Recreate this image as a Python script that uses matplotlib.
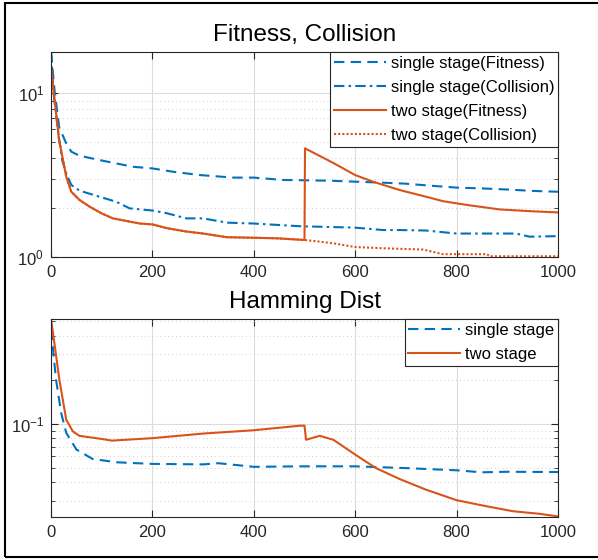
import matplotlib
matplotlib.use("Agg")
import matplotlib.pyplot as plt
from matplotlib.ticker import LogLocator, NullFormatter
from matplotlib.patches import Rectangle

plt.rcParams['font.family'] = ['Liberation Sans', 'DejaVu Sans']
plt.rcParams['mathtext.fontset'] = 'custom'
plt.rcParams['mathtext.rm'] = 'Liberation Sans'

# ---- data ----
# top panel: fitness / collision
ss_fit_x = [0, 7, 16, 30, 40, 56, 96, 129, 162, 200, 241, 294, 360, 400, 458, 492,
            550, 600, 655, 700, 750, 800, 850, 900, 950, 1000]
ss_fit_y = [17.8, 10.4, 6.2, 4.93, 4.39, 4.15, 3.9, 3.72, 3.55, 3.47, 3.31, 3.16, 3.05, 3.05, 2.95, 2.94,
            2.92, 2.88, 2.84, 2.8, 2.72, 2.65, 2.62, 2.58, 2.53, 2.5]

ss_col_x = [0, 5, 15, 22, 30, 40, 56, 96, 129, 155, 200, 228, 267, 300, 347, 400, 445, 492,
            600, 655, 688, 740, 800, 852, 917, 944, 1000]
ss_col_y = [17.8, 10.0, 5.5, 3.9, 3.24, 2.75, 2.54, 2.33, 2.17, 1.98, 1.92, 1.85, 1.72, 1.72, 1.62, 1.60, 1.57, 1.54,
            1.51, 1.46, 1.46, 1.45, 1.39, 1.39, 1.39, 1.33, 1.34]

ts_fit_x = [0, 7, 16, 30, 40, 56, 76, 99, 122, 148, 175, 200, 228, 267, 300, 347, 400, 445, 500,
            501, 558, 600, 635, 688, 740, 773, 819, 885, 950, 1000]
ts_fit_y = [14.5, 9.06, 5.17, 3.09, 2.5, 2.23, 2.03, 1.85, 1.72, 1.66, 1.6, 1.58, 1.5, 1.43, 1.39, 1.32, 1.31, 1.3, 1.27,
            4.6, 3.73, 3.16, 2.88, 2.56, 2.33, 2.19, 2.08, 1.95, 1.90, 1.87]

ts_col_x = [0, 7, 16, 30, 40, 56, 76, 99, 122, 148, 175, 200, 228, 267, 300, 347, 400, 445, 500,
            530, 558, 600, 655, 734, 773, 819, 860, 865, 1000]
ts_col_y = [14.5, 9.06, 5.17, 3.09, 2.5, 2.23, 2.03, 1.85, 1.72, 1.66, 1.6, 1.58, 1.5, 1.43, 1.39, 1.32, 1.31, 1.3, 1.27,
            1.24, 1.21, 1.15, 1.13, 1.11, 1.04, 1.04, 1.04, 1.01, 1.01]

# bottom panel: hamming distance
hd_ss_x = [0, 10, 20, 30, 50, 82, 129, 200, 300, 330, 400, 491, 600, 700, 800, 850, 900, 1000]
hd_ss_y = [0.44, 0.2, 0.119, 0.087, 0.067, 0.0577, 0.0548, 0.0534, 0.053, 0.054, 0.051, 0.0514,
           0.0514, 0.050, 0.0483, 0.0468, 0.0472, 0.047]

hd_ts_x = [0, 8, 16.5, 30, 43, 56, 100, 120, 200, 300, 400, 491, 500, 503, 530, 557, 600, 641, 687,
           739, 800, 858, 911, 963, 1000]
hd_ts_y = [0.52, 0.33, 0.2, 0.107, 0.089, 0.083, 0.079, 0.077, 0.080, 0.086, 0.0906, 0.0973, 0.0973,
           0.078, 0.083, 0.078, 0.0618, 0.050, 0.0422, 0.0357, 0.0302, 0.0275, 0.0254, 0.0244, 0.0234]

xticks = [0, 200, 400, 600, 800, 1000]

blue = '#0072BD'
orange = '#D95319'
dark = '#262626'

fig = plt.figure(figsize=(5.98, 5.60), dpi=100)
ax1 = fig.add_axes([0.0853, 0.5411, 0.8478, 0.3660])
ax2 = fig.add_axes([0.0853, 0.0768, 0.8478, 0.3536])

lw = 1.5
ax1.plot(ss_fit_x, ss_fit_y, color=blue, lw=lw, dashes=(5, 3), label='single stage(Fitness)')
ax1.plot(ss_col_x, ss_col_y, color=blue, lw=lw, dashes=(5, 2, 1.2, 2), label='single stage(Collision)')
ax1.plot(ts_fit_x, ts_fit_y, color=orange, lw=lw, label='two stage(Fitness)')
ax1.plot(ts_col_x, ts_col_y, color=orange, lw=lw, dashes=(1, 1), label='two stage(Collision)')
ax1.set_ylim(1, 17.8)
ax1.set_title('Fitness, Collision', fontsize=17.5, color='black', pad=8)

ax2.plot(hd_ss_x, hd_ss_y, color=blue, lw=lw, dashes=(5, 3), label='single stage')
ax2.plot(hd_ts_x, hd_ts_y, color=orange, lw=lw, label='two stage')
ax2.set_ylim(0.0232, 0.52)
ax2.set_title('Hamming Dist', fontsize=17.5, color='black', pad=8)

for ax in (ax1, ax2):
    ax.set_yscale('log')
    ax.set_xlim(0, 1000)
    ax.set_xticks(xticks)
    ax.yaxis.set_major_locator(LogLocator(base=10))
    ax.yaxis.set_minor_locator(LogLocator(base=10, subs=range(2, 10)))
    ax.yaxis.set_minor_formatter(NullFormatter())
    ax.tick_params(which='both', direction='in', top=True, right=True, colors=dark,
                   labelsize=12, labelcolor=dark)
    ax.tick_params(which='major', length=5, width=0.8)
    ax.tick_params(which='minor', length=3, width=0.6)
    ax.tick_params(axis='x', pad=6)
    ax.tick_params(axis='y', pad=5)
    ax.grid(True, which='major', color='#dcdcdc', lw=0.8)
    ax.grid(True, which='minor', axis='y', color='#d0d0d0', lw=0.7, ls=(0, (1, 3)))
    ax.set_axisbelow(True)
    for s in ax.spines.values():
        s.set_color(dark)
        s.set_linewidth(0.8)
    leg = ax.legend(loc='upper right', fontsize=12, handlelength=3.1, borderaxespad=0,
                    fancybox=False, framealpha=1, edgecolor=dark, labelspacing=0.54,
                    handletextpad=0.3, borderpad=0.23)
    leg.get_frame().set_linewidth(0.8)

fig.patches.append(Rectangle((5 / 598, 3 / 560), 1.0, 554 / 560, transform=fig.transFigure,
                             fill=False, edgecolor='black', lw=1.5))

fig.savefig('out.png', dpi=100)
